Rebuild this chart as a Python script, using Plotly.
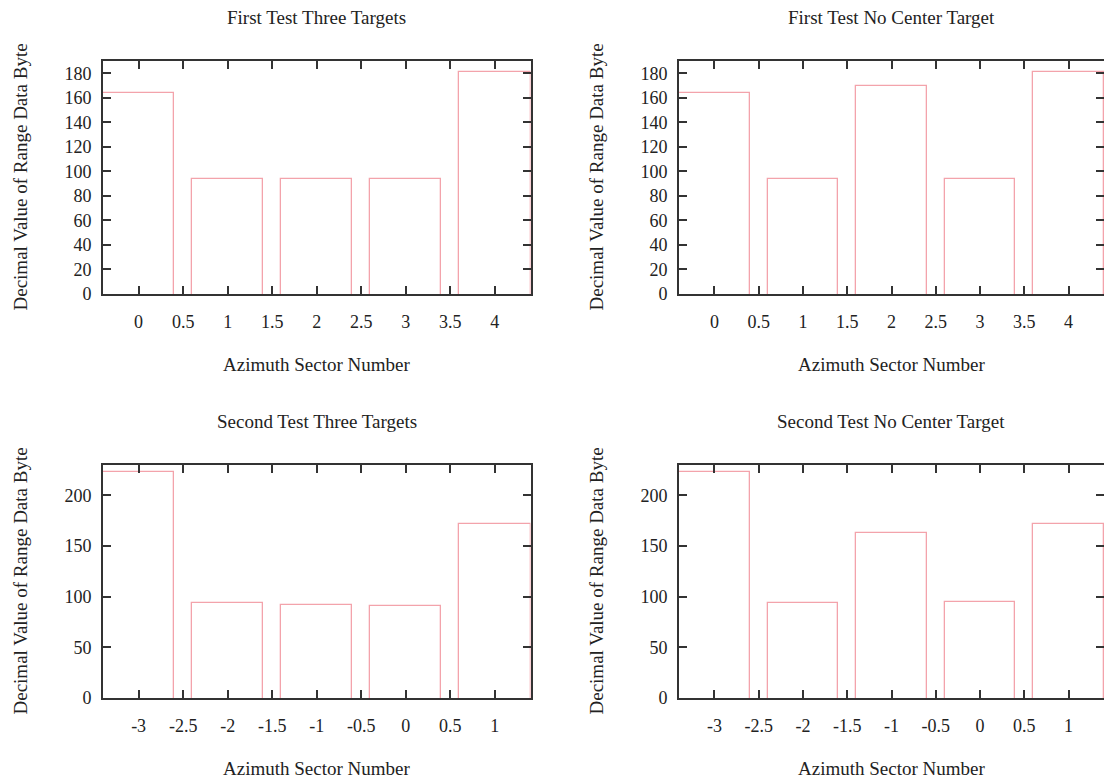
import plotly.graph_objects as go
from plotly.subplots import make_subplots

# sector numbers (bar centres)
sectors_first = [0, 1, 2, 3, 4]
sectors_second = [-3, -2, -1, 0, 1]

# decimal value of range data byte
first_three = [164, 94, 94, 94, 181]
first_no_center = [164, 94, 170, 94, 181]
second_three = [223, 94, 92, 91, 172]
second_no_center = [223, 94, 163, 95, 172]

titles = ["First Test Three Targets", "First Test No Center Target",
          "Second Test Three Targets", "Second Test No Center Target"]

# tick labels
xticks_first = [0, 0.5, 1, 1.5, 2, 2.5, 3, 3.5, 4]
xticks_second = [-3, -2.5, -2, -1.5, -1, -0.5, 0, 0.5, 1]
yticks_first = [0, 20, 40, 60, 80, 100, 120, 140, 160, 180]
yticks_second = [0, 50, 100, 150, 200]

W, H = 1104, 780
FONT = "Liberation Serif"
BAR_LINE = "#f3a3ab"
FRAME = "#333333"

fig = make_subplots(rows=2, cols=2)

panels = [
    (1, 1, sectors_first, first_three, xticks_first, yticks_first, [-0.4, 4.4], [0, 190]),
    (1, 2, sectors_first, first_no_center, xticks_first, yticks_first, [-0.4, 4.4], [0, 190]),
    (2, 1, sectors_second, second_three, xticks_second, yticks_second, [-3.4, 1.4], [0, 230]),
    (2, 2, sectors_second, second_no_center, xticks_second, yticks_second, [-3.4, 1.4], [0, 230]),
]

# plot areas in pixels: (left, right, top, bottom)
boxes = {
    (1, 1): (103, 530.5, 61, 294),
    (1, 2): (679, 1104, 61, 294),
    (2, 1): (103, 530.5, 465, 698),
    (2, 2): (679, 1104, 465, 698),
}

def fmt(v):
    return str(v).replace(".0", "") if float(v).is_integer() else str(v)

annotations = []
for i, (r, c, xs, ys, xt, yt, xr, yr) in enumerate(panels):
    # base slightly below zero so the box bottoms are clipped under the axis
    base = -3
    fig.add_trace(go.Bar(
        x=xs, y=[v - base for v in ys], base=base, width=0.8,
        marker=dict(color="rgba(0,0,0,0)", line=dict(color=BAR_LINE, width=1.3)),
        showlegend=False,
    ), row=r, col=c)

    left, right, top, bottom = boxes[(r, c)]
    fig.update_xaxes(
        domain=[left / W, right / W], range=xr,
        tickvals=xt, ticktext=[fmt(v) for v in xt],
        ticks="inside", ticklen=8, tickwidth=1.5, tickcolor=FRAME,
        showline=True, mirror="allticks", linecolor=FRAME, linewidth=1.6,
        showgrid=False, zeroline=False, ticklabelstandoff=11,
        automargin=False, layer="above traces",
        tickfont=dict(family=FONT, size=18, color="#222"),
        row=r, col=c)
    fig.update_yaxes(
        domain=[1 - bottom / H, 1 - top / H], range=yr,
        tickvals=yt, ticktext=[str(v) for v in yt],
        ticks="inside", ticklen=8, tickwidth=1.5, tickcolor=FRAME,
        showline=True, mirror="allticks", linecolor=FRAME, linewidth=1.6,
        showgrid=False, zeroline=False, ticklabelstandoff=6,
        automargin=False, layer="above traces",
        tickfont=dict(family=FONT, size=18, color="#222"),
        row=r, col=c)

    cx = (left + right) / 2 if c == 1 else 891
    cy = (top + bottom) / 2
    # panel title
    annotations.append(dict(text=titles[i], x=cx / W, y=1 - (top - 44) / H,
                            xref="paper", yref="paper", showarrow=False,
                            xanchor="center", yanchor="middle",
                            font=dict(family=FONT, size=19, color="#222")))
    # x axis title
    annotations.append(dict(text="Azimuth Sector Number", x=cx / W, y=1 - (bottom + 70) / H,
                            xref="paper", yref="paper", showarrow=False,
                            xanchor="center", yanchor="middle",
                            font=dict(family=FONT, size=19, color="#222")))
    # y axis title
    yx = 20 if c == 1 else 596
    annotations.append(dict(text="Decimal Value of Range Data Byte", x=yx / W, y=1 - cy / H,
                            xref="paper", yref="paper", showarrow=False, textangle=-90,
                            xanchor="center", yanchor="middle",
                            font=dict(family=FONT, size=19, color="#222")))

fig.update_layout(
    template="none",
    width=W, height=H,
    margin=dict(l=0, r=0, t=0, b=0, autoexpand=False),
    paper_bgcolor="white", plot_bgcolor="white",
    annotations=annotations,
    bargap=0,
    hovermode=False,
)

# drop the default page margin so the figure sits at the window's corner
fig.write_html("out.html", config={"displayModeBar": False},
               post_script="document.body.style.margin='0';")
